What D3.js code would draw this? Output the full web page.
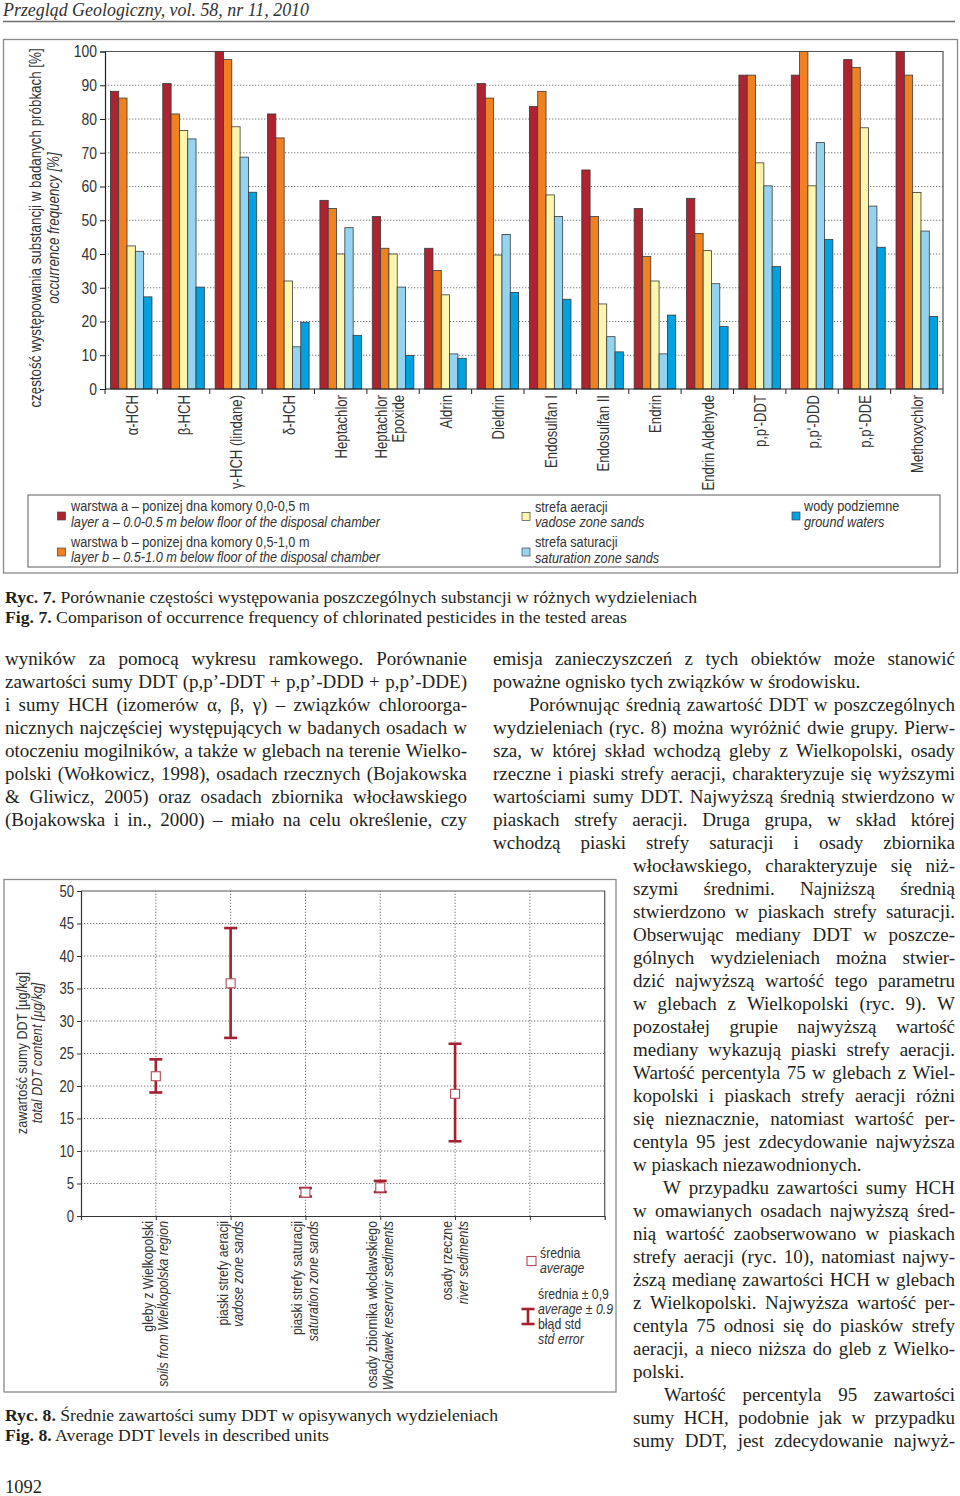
<!DOCTYPE html>
<html><head><meta charset="utf-8">
<script src="https://cdn.jsdelivr.net/npm/d3@7"></script>
<style>
html,body{margin:0;padding:0;background:#fff;}
svg{display:block;}
</style></head>
<body>
<svg id="page" width="960" height="1496"></svg>
<script>
// ---------- DATA: Fig. 7 ----------
const categories = ["α-HCH","β-HCH","γ-HCH (lindane)","δ-HCH","Heptachlor","Heptachlor\nEpoxide","Aldrin","Dieldrin","Endosulfan I","Endosulfan II","Endrin","Endrin Aldehyde","p,p'-DDT","p,p'-DDD","p,p'-DDE","Methoxychlor"];
const layerA      = [88.2,90.5,100,81.5,55.9,51.1,41.7,90.5,83.7,64.9,53.5,56.5,93.0,93.0,97.6,100];
const layerB      = [86.2,81.5,97.6,74.4,53.5,41.7,35.1,86.2,88.2,51.1,39.3,46.1,93.0,100,95.3,93.0];
const vadose      = [42.4,76.6,77.7,32.0,40.0,40.0,27.9,39.7,57.5,25.2,32.0,41.0,67.0,60.2,77.4,58.2];
const saturation  = [40.8,74.1,68.7,12.5,47.8,30.2,10.4,45.8,51.1,15.5,10.4,31.2,60.2,73.0,54.2,46.8];
const groundwater = [27.3,30.2,58.3,19.8,15.9,9.9,9.1,28.6,26.6,11.0,21.9,18.5,36.3,44.3,42.0,21.5];
const seriesNames = ["layerA","layerB","vadose","saturation","groundwater"];
const seriesColors = ["#ad2430","#f08121","#fff6ad","#94d4f1","#00a1e1"];
const freqTicks = [0,10,20,30,40,50,60,70,80,90,100];

// ---------- DATA: Fig. 8 ----------
const unitsPl = ["gleby z Wielkopolski","piaski strefy aeracji","piaski strefy saturacji","osady zbiornika włocławskiego","osady rzeczne"];
const unitsEn = ["soils from Wielkopolska region","vadose zone sands","saturation zone sands","Włocławek reservoir sediments","river sediments"];
const ddtMean  = [21.5,35.8,3.6,4.4,18.8];
const ddtUpper = [24.1,44.3,4.3,5.4,26.5];
const ddtLower = [19.0,27.4,3.0,3.7,11.5];
const ddtTicks = [0,5,10,15,20,25,30,35,40,45,50];

// ---------- TEXT ----------
const leftLines = [
"wyników za pomocą wykresu ramkowego. Porównanie",
"zawartości sumy DDT (p,p’-DDT + p,p’-DDD + p,p’-DDE)",
"i sumy HCH (izomerów α, β, γ) – związków chloroorga-",
"nicznych najczęściej występujących w badanych osadach w",
"otoczeniu mogilników, a także w glebach na terenie Wielko-",
"polski (Wołkowicz, 1998), osadach rzecznych (Bojakowska",
"& Gliwicz, 2005) oraz osadach zbiornika włocławskiego",
"(Bojakowska i in., 2000) – miało na celu określenie, czy"];
const rightLines = [
"emisja zanieczyszczeń z tych obiektów może stanowić",
"poważne ognisko tych związków w środowisku.",
"Porównując średnią zawartość DDT w poszczególnych",
"wydzieleniach (ryc. 8) można wyróżnić dwie grupy. Pierw-",
"sza, w której skład wchodzą gleby z Wielkopolski, osady",
"rzeczne i piaski strefy aeracji, charakteryzuje się wyższymi",
"wartościami sumy DDT. Najwyższą średnią stwierdzono w",
"piaskach strefy aeracji. Druga grupa, w skład której",
"wchodzą piaski strefy saturacji i osady zbiornika",
"włocławskiego, charakteryzuje się niż-",
"szymi średnimi. Najniższą średnią",
"stwierdzono w piaskach strefy saturacji.",
"Obserwując mediany DDT w poszcze-",
"gólnych wydzieleniach można stwier-",
"dzić najwyższą wartość tego parametru",
"w glebach z Wielkopolski (ryc. 9). W",
"pozostałej grupie najwyższą wartość",
"mediany wykazują piaski strefy aeracji.",
"Wartość percentyla 75 w glebach z Wiel-",
"kopolski i piaskach strefy aeracji różni",
"się nieznacznie, natomiast wartość per-",
"centyla 95 jest zdecydowanie najwyższa",
"w piaskach niezawodnionych.",
"W przypadku zawartości sumy HCH",
"w omawianych osadach najwyższą śred-",
"nią wartość zaobserwowano w piaskach",
"strefy aeracji (ryc. 10), natomiast najwy-",
"ższą medianę zawartości HCH w glebach",
"z Wielkopolski. Najwyższa wartość per-",
"centyla 75 odnosi się do piasków strefy",
"aeracji, a nieco niższa do gleb z Wielko-",
"polski.",
"Wartość percentyla 95 zawartości",
"sumy HCH, podobnie jak w przypadku",
"sumy DDT, jest zdecydowanie najwyż-"];
const raggedRight = [1,22,31];
const indentRight = {2:36, 23:30, 32:31};

const SANS = "'Liberation Sans Narrow','Arial Narrow','Liberation Sans',Arial,sans-serif";
const SERIF = "'Liberation Serif','Times New Roman',serif";
const INK = "#231f20";

const svg = d3.select("#page");
svg.append("rect").attr("width",960).attr("height",1496).attr("fill","#fff");

// narrow-font emulation: squeeze sans text along its own writing direction
function narrow(sel, f){
  sel.selectAll("text").each(function(){
    const t = d3.select(this);
    const x = +t.attr("x") || 0, y = +t.attr("y") || 0;
    const tr = t.attr("transform") || "";
    t.attr("x", null).attr("y", null)
     .attr("transform", `${tr} translate(${x},${y}) scale(${f},1)`);
  });
}

// ---------- header ----------
svg.append("text").attr("x",3).attr("y",15.5)
  .attr("font-family",SERIF).attr("font-style","italic").attr("font-size",18)
  .attr("fill","#333").attr("textLength",306).attr("lengthAdjust","spacingAndGlyphs")
  .text("Przegląd Geologiczny, vol. 58, nr 11, 2010");
svg.append("line").attr("x1",3).attr("x2",955).attr("y1",21.5).attr("y2",21.5)
  .attr("stroke","#6d6d6d").attr("stroke-width",1.5);

// ---------- Fig. 7 ----------
const f7 = svg.append("g").attr("font-family",SANS).attr("fill","#333");
f7.append("rect").attr("x",3.5).attr("y",39.5).attr("width",954).attr("height",533.5)
  .attr("fill","none").attr("stroke","#8a8a8a").attr("stroke-width",1.3);

const x0 = d3.scaleBand().domain(categories).range([105,943]).padding(0);
const x1 = d3.scaleBand().domain(seriesNames).range([0,x0.bandwidth()]).paddingOuter(0.65).paddingInner(0);
const y7 = d3.scaleLinear().domain([0,100]).range([389,51.5]);

f7.append("g").selectAll("line").data(freqTicks.filter(t=>t>0 && t<100)).join("line")
  .attr("x1",105).attr("x2",943).attr("y1",d=>y7(d)).attr("y2",d=>y7(d))
  .attr("stroke","#7a7a7a").attr("stroke-width",1).attr("stroke-dasharray","1.3,1.7");
f7.append("path").attr("d",`M105,${y7(100)}H943V${y7(0)}`).attr("fill","none").attr("stroke","#555").attr("stroke-width",1.2);

const seriesData = [layerA,layerB,vadose,saturation,groundwater];
const bars = [];
categories.forEach((c,i)=>seriesNames.forEach((s,j)=>bars.push({c,s,j,v:seriesData[j][i]})));
f7.append("g").selectAll("rect").data(bars).join("rect")
  .attr("x",d=>x0(d.c)+x1(d.s)).attr("width",x1.bandwidth())
  .attr("y",d=>y7(d.v)).attr("height",d=>y7(0)-y7(d.v))
  .attr("fill",d=>seriesColors[d.j]).attr("stroke","#3a3a3a").attr("stroke-width",0.8);

const yAx = f7.append("g").attr("transform","translate(105,0)")
  .call(d3.axisLeft(y7).tickValues(freqTicks).tickSize(5).tickPadding(3));
yAx.select(".domain").attr("stroke","#222").attr("stroke-width",1.2);
yAx.selectAll(".tick line").attr("stroke","#222");
yAx.selectAll("text").attr("font-family",SANS).attr("font-size",17).attr("fill","#333");

f7.append("line").attr("x1",105).attr("x2",943).attr("y1",389).attr("y2",389).attr("stroke","#222").attr("stroke-width",1.2);
const bounds = categories.map(c=>x0(c)).concat([943]);
f7.append("g").selectAll("line").data(bounds).join("line")
  .attr("x1",d=>d).attr("x2",d=>d).attr("y1",389).attr("y2",394).attr("stroke","#222");
categories.forEach(c=>{
  const cx = x0(c)+x0.bandwidth()/2;
  const lines = c.split("\n");
  const offs = lines.length===1 ? [6.5] : [-6,11];
  lines.forEach((ln,k)=>{
    f7.append("text").attr("transform",`translate(${cx+offs[k]},395) rotate(-90)`)
      .attr("text-anchor","end").attr("font-size",16).text(ln);
  });
});
f7.append("text").attr("transform","translate(40.5,228) rotate(-90)").attr("text-anchor","middle")
  .attr("font-size",16.3).text("częstość występowania substancji w badanych próbkach [%]");
f7.append("text").attr("transform","translate(59,228) rotate(-90)").attr("text-anchor","middle")
  .attr("font-size",16.3).attr("font-style","italic").text("occurrence frequency [%]");

f7.append("rect").attr("x",28).attr("y",495).attr("width",912).attr("height",72)
  .attr("fill","none").attr("stroke","#777").attr("stroke-width",1.2);
const legendItems = [
  {j:0, sx:57.5, sy:512, tx:71, ty:[511,526.5], t:["warstwa a – ponizej dna komory 0,0-0,5 m","layer a – 0.0-0.5 m below floor of the disposal chamber"]},
  {j:1, sx:57.5, sy:548, tx:71, ty:[546.5,562], t:["warstwa b – ponizej dna komory 0,5-1,0 m","layer b – 0.5-1.0 m below floor of the disposal chamber"]},
  {j:2, sx:522, sy:512.5, tx:535, ty:[511.5,527], t:["strefa aeracji","vadose zone sands"]},
  {j:3, sx:522, sy:548, tx:535, ty:[547,562.5], t:["strefa saturacji","saturation zone sands"]},
  {j:4, sx:792, sy:512, tx:804, ty:[511,526.5], t:["wody podziemne","ground waters"]}
];
legendItems.forEach(it=>{
  f7.append("rect").attr("x",it.sx).attr("y",it.sy).attr("width",8).attr("height",8)
    .attr("fill",seriesColors[it.j]).attr("stroke","#444").attr("stroke-width",0.7);
  f7.append("text").attr("x",it.tx).attr("y",it.ty[0]).attr("font-size",15.5).text(it.t[0]);
  f7.append("text").attr("x",it.tx).attr("y",it.ty[1]).attr("font-size",15.5).attr("font-style","italic").text(it.t[1]);
});
narrow(f7, 0.82);

// captions
function caption(x,y,bold,rest,len){
  const t = svg.append("text").attr("x",x).attr("y",y).attr("font-family",SERIF).attr("font-size",17.5)
    .attr("fill",INK).attr("textLength",len).attr("lengthAdjust","spacingAndGlyphs");
  t.append("tspan").attr("font-weight","bold").text(bold);
  t.append("tspan").text(rest);
}
caption(5,603,"Ryc. 7.", " Porównanie częstości występowania poszczególnych substancji w różnych wydzieleniach",692);
caption(5,622.5,"Fig. 7.", " Comparison of occurrence frequency of chlorinated pesticides in the tested areas",622);
caption(5,1421,"Ryc. 8.", " Średnie zawartości sumy DDT w opisywanych wydzieleniach",493);
caption(5,1441,"Fig. 8.", " Average DDT levels in described units",324);

// ---------- body text ----------
const body = svg.append("g").attr("font-family",SERIF).attr("font-size",19).attr("fill",INK);
function textLine(str,x,y,width,justify){
  if(!justify){ body.append("text").attr("x",x).attr("y",y).text(str); return; }
  const words = str.split(" ");
  const widths = words.map(w=>{ const tmp = body.append("text").text(w); const l = tmp.node().getComputedTextLength(); tmp.remove(); return l; });
  const gap = (width - d3.sum(widths))/(words.length-1);
  const t = body.append("text").attr("y",y);
  let cx = x;
  words.forEach((w,i)=>{ t.append("tspan").attr("x",cx).text(w); cx += widths[i]+gap; });
}
leftLines.forEach((ln,i)=>textLine(ln,5,665+23*i,462,true));
rightLines.forEach((ln,i)=>{
  const x = i<9 ? 493 : 633;
  const ind = indentRight[i]||0;
  textLine(ln,x+ind,665+23*i,(955-x)-ind,raggedRight.indexOf(i)<0);
});
svg.append("text").attr("x",5).attr("y",1493).attr("font-family",SERIF).attr("font-size",18.5).attr("fill",INK).text("1092");

// ---------- Fig. 8 ----------
const f8 = svg.append("g").attr("font-family",SANS).attr("fill","#333");
f8.append("rect").attr("x",4).attr("y",879.5).attr("width",612).attr("height",512.5)
  .attr("fill","none").attr("stroke","#8a8a8a").attr("stroke-width",1.3);
const x8 = d3.scaleLinear().domain([0,7]).range([81,604.7]);
const y8 = d3.scaleLinear().domain([0,50]).range([1216,891]);
const catPos = [1,2,3,4,5,6];
f8.append("g").selectAll("line").data(ddtTicks.filter(t=>t>0&&t<50)).join("line")
  .attr("x1",x8(0)).attr("x2",x8(7)).attr("y1",d=>y8(d)).attr("y2",d=>y8(d))
  .attr("stroke","#777").attr("stroke-dasharray","1.3,1.7");
f8.append("g").selectAll("line").data(catPos).join("line")
  .attr("x1",d=>x8(d)).attr("x2",d=>x8(d)).attr("y1",y8(0)).attr("y2",y8(50))
  .attr("stroke","#777").attr("stroke-dasharray","1.3,1.7");
f8.append("path").attr("d",`M${x8(0)},${y8(50)}H${x8(7)}V${y8(0)}`).attr("fill","none").attr("stroke","#555").attr("stroke-width",1.2);
const yAx8 = f8.append("g").attr("transform",`translate(${x8(0)},0)`)
  .call(d3.axisLeft(y8).tickValues(ddtTicks).tickSize(4).tickPadding(3));
yAx8.select(".domain").attr("stroke","#333").attr("stroke-width",1.2);
yAx8.selectAll(".tick line").attr("stroke","#333");
yAx8.selectAll("text").attr("font-family",SANS).attr("font-size",16).attr("fill","#333");
const xAx8 = f8.append("g").attr("transform",`translate(0,${y8(0)})`)
  .call(d3.axisBottom(x8).tickValues(catPos).tickSize(4).tickFormat(""));
xAx8.select(".domain").attr("stroke","#333").attr("stroke-width",1.2);
xAx8.selectAll(".tick line").attr("stroke","#333");

const EB = "#a3202e";
const pts = ddtMean.map((m,i)=>({i,m,hi:ddtUpper[i],lo:ddtLower[i]}));
const eg = f8.append("g");
pts.forEach(p=>{
  const cx = x8(p.i+1);
  eg.append("line").attr("x1",cx).attr("x2",cx).attr("y1",y8(p.hi)).attr("y2",y8(p.lo)).attr("stroke",EB).attr("stroke-width",2.6);
  [p.hi,p.lo].forEach(v=>eg.append("line").attr("x1",cx-6.5).attr("x2",cx+6.5).attr("y1",y8(v)).attr("y2",y8(v)).attr("stroke",EB).attr("stroke-width",2.6));
  eg.append("rect").attr("x",cx-4.5).attr("y",y8(p.m)-4.5).attr("width",9).attr("height",9)
    .attr("fill","#fff").attr("stroke","#b04a55").attr("stroke-width",1.1);
});
unitsPl.forEach((u,i)=>{
  const cx = x8(i+1);
  f8.append("text").attr("transform",`translate(${cx-3},1221) rotate(-90)`).attr("text-anchor","end").attr("font-size",15).text(u);
  f8.append("text").attr("transform",`translate(${cx+12.5},1221) rotate(-90)`).attr("text-anchor","end").attr("font-size",15).attr("font-style","italic").text(unitsEn[i]);
});
f8.append("text").attr("transform","translate(27,1053) rotate(-90)").attr("text-anchor","middle").attr("font-size",15.5).text("zawartość sumy DDT [µg/kg]");
f8.append("text").attr("transform","translate(42,1053) rotate(-90)").attr("text-anchor","middle").attr("font-size",15.5).attr("font-style","italic").text("total DDT content [µg/kg]");
f8.append("rect").attr("x",527).attr("y",1256.5).attr("width",9).attr("height",9).attr("fill","#fff").attr("stroke","#b04a55").attr("stroke-width",1.1);
f8.append("text").attr("x",540).attr("y",1258).attr("font-size",15).text("średnia");
f8.append("text").attr("x",540).attr("y",1273).attr("font-size",15).attr("font-style","italic").text("average");
f8.append("line").attr("x1",528).attr("x2",528).attr("y1",1309).attr("y2",1324).attr("stroke",EB).attr("stroke-width",2.6);
[1309,1324].forEach(v=>f8.append("line").attr("x1",521.5).attr("x2",534.5).attr("y1",v).attr("y2",v).attr("stroke",EB).attr("stroke-width",2.6));
[["średnia ± 0,9",1299,false],["average ± 0.9",1314,true],["błąd std",1329,false],["std error",1343.5,true]].forEach(d=>{
  f8.append("text").attr("x",538).attr("y",d[1]).attr("font-size",15).attr("font-style",d[2]?"italic":"normal").text(d[0]);
});
narrow(f8, 0.82);
</script>
</body></html>
